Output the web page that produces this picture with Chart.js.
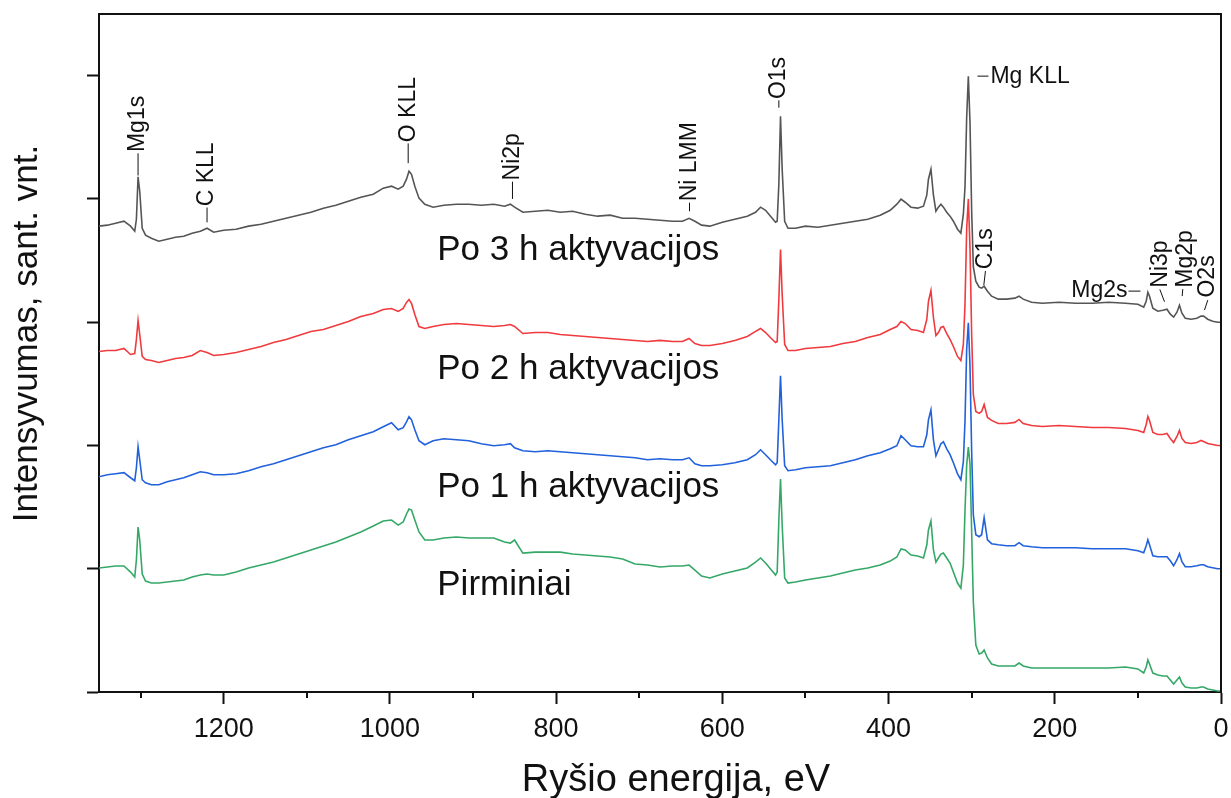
<!DOCTYPE html>
<html lang="lt">
<head>
<meta charset="UTF-8">
<title>XPS apžvalginiai spektrai</title>
<script src="https://cdn.jsdelivr.net/npm/chart.js"></script>
<style>
    html, body { margin: 0; padding: 0; background: #fff; }
    canvas { display: block; }
</style>
</head>
<body>
<canvas id="xps" width="1231" height="798"></canvas>
<script>
// Ryšio energija, eV (bendra visiems spektrams)
const energija = [
    1350, 1340, 1330, 1320, 1312, 1307, 1305, 1303, 1301, 1298,
    1294, 1287, 1278, 1268, 1258, 1248, 1238, 1228, 1220, 1212,
    1200, 1185, 1170, 1155, 1140, 1125, 1110, 1095, 1080, 1065,
    1050, 1035, 1020, 1008, 998, 990, 984, 980, 977, 974,
    970, 965, 958, 948, 935, 920, 905, 890, 875, 862,
    855, 850, 840, 825, 810, 795, 780, 765, 750, 735,
    720, 705, 690, 675, 660, 648, 640, 633, 625, 615,
    600, 585, 570, 560, 554, 548, 541, 536, 534, 532,
    530, 528, 525, 521, 512, 500, 485, 470, 455, 440,
    425, 410, 398, 390, 385, 380, 373, 365, 358, 354,
    352, 349, 346, 343, 340, 337, 334, 330, 326, 322,
    317, 313, 310, 308, 306, 304, 302, 300, 298, 295,
    291, 288, 285, 281, 276, 268, 258, 248, 243, 238,
    228, 215, 195, 175, 155, 135, 115, 100, 93, 90,
    88, 86, 82, 76, 70, 65, 61, 57, 53, 50,
    47, 43, 36, 29, 24, 21, 16, 10, 4, 0
];

// Normuoti intensyvumai (Mg KLL smailė ~2)
const pirminiai = [
    1.006, 1.014, 1.022, 1.022, 0.973, 0.933, 1.071, 1.338, 1.233, 0.957,
    0.900, 0.884, 0.884, 0.892, 0.900, 0.908, 0.933, 0.949, 0.957, 0.949,
    0.949, 0.973, 1.006, 1.030, 1.054, 1.087, 1.119, 1.152, 1.184, 1.217,
    1.257, 1.298, 1.346, 1.387, 1.395, 1.354, 1.379, 1.444, 1.484, 1.476,
    1.395, 1.298, 1.233, 1.233, 1.249, 1.257, 1.249, 1.249, 1.249, 1.217,
    1.208, 1.233, 1.127, 1.135, 1.135, 1.135, 1.119, 1.111, 1.103, 1.095,
    1.079, 1.038, 1.030, 1.014, 1.022, 1.022, 1.030, 0.989, 0.941, 0.925,
    0.957, 0.981, 1.006, 1.054, 1.087, 1.046, 0.989, 0.949, 0.973, 1.395,
    1.727, 1.354, 0.925, 0.884, 0.892, 0.908, 0.925, 0.941, 0.965, 0.989,
    1.006, 1.030, 1.062, 1.095, 1.160, 1.152, 1.111, 1.103, 1.087, 1.192,
    1.314, 1.387, 1.152, 1.054, 1.087, 1.119, 1.127, 1.087, 1.046, 0.973,
    0.884, 0.843, 1.030, 1.476, 1.840, 1.987, 1.850, 1.300, 0.730, 0.381,
    0.308, 0.316, 0.341, 0.276, 0.227, 0.211, 0.211, 0.211, 0.235, 0.211,
    0.195, 0.195, 0.195, 0.195, 0.195, 0.195, 0.203, 0.187, 0.154, 0.203,
    0.260, 0.227, 0.154, 0.138, 0.130, 0.130, 0.097, 0.065, 0.097, 0.122,
    0.073, 0.041, 0.032, 0.032, 0.041, 0.041, 0.024, 0.016, 0.008, 0.008
];

const po1h = [
    0.746, 0.762, 0.770, 0.779, 0.738, 0.714, 0.819, 0.989, 0.884, 0.722,
    0.697, 0.681, 0.681, 0.706, 0.722, 0.738, 0.762, 0.787, 0.779, 0.762,
    0.762, 0.770, 0.795, 0.827, 0.852, 0.884, 0.916, 0.949, 0.981, 1.006,
    1.046, 1.079, 1.111, 1.152, 1.184, 1.127, 1.144, 1.192, 1.233, 1.208,
    1.127, 1.038, 1.006, 1.038, 1.054, 1.046, 1.038, 1.014, 0.998, 1.006,
    1.014, 0.981, 0.957, 0.949, 0.957, 0.949, 0.941, 0.933, 0.925, 0.916,
    0.908, 0.900, 0.884, 0.892, 0.884, 0.884, 0.900, 0.852, 0.835, 0.835,
    0.843, 0.860, 0.884, 0.925, 0.965, 0.925, 0.876, 0.843, 0.860, 1.208,
    1.565, 1.208, 0.835, 0.795, 0.803, 0.819, 0.827, 0.835, 0.860, 0.884,
    0.916, 0.941, 0.973, 0.998, 1.079, 1.046, 0.998, 0.989, 0.989, 1.087,
    1.208, 1.289, 1.046, 0.916, 0.965, 1.014, 1.030, 0.973, 0.925, 0.860,
    0.770, 0.722, 0.868, 1.200, 1.780, 1.995, 1.640, 0.950, 0.438, 0.276,
    0.260, 0.276, 0.414, 0.235, 0.203, 0.195, 0.187, 0.187, 0.211, 0.187,
    0.178, 0.170, 0.170, 0.170, 0.162, 0.162, 0.162, 0.146, 0.130, 0.187,
    0.235, 0.195, 0.105, 0.097, 0.097, 0.097, 0.065, 0.024, 0.073, 0.122,
    0.057, 0.016, 0.016, 0.024, 0.032, 0.032, 0.016, 0.008, 0, 0
];

const po2h = [
    0.762, 0.770, 0.770, 0.787, 0.738, 0.746, 0.860, 1.014, 0.900, 0.722,
    0.697, 0.689, 0.673, 0.689, 0.706, 0.714, 0.730, 0.770, 0.754, 0.730,
    0.738, 0.754, 0.779, 0.803, 0.835, 0.860, 0.892, 0.925, 0.941, 0.973,
    1.006, 1.046, 1.071, 1.103, 1.111, 1.087, 1.111, 1.160, 1.184, 1.152,
    1.062, 0.965, 0.949, 0.965, 0.981, 0.989, 0.981, 0.973, 0.965, 0.973,
    0.981, 0.965, 0.908, 0.916, 0.916, 0.900, 0.892, 0.884, 0.876, 0.868,
    0.860, 0.852, 0.843, 0.852, 0.843, 0.843, 0.868, 0.827, 0.811, 0.811,
    0.827, 0.852, 0.884, 0.925, 0.949, 0.916, 0.868, 0.835, 0.843, 1.184,
    1.590, 1.225, 0.819, 0.770, 0.770, 0.787, 0.795, 0.803, 0.827, 0.843,
    0.876, 0.900, 0.941, 0.965, 1.006, 0.989, 0.941, 0.933, 0.916, 1.022,
    1.168, 1.257, 1.038, 0.892, 0.916, 0.957, 0.965, 0.908, 0.860, 0.803,
    0.722, 0.689, 0.819, 1.150, 1.760, 2.000, 1.600, 0.900, 0.414, 0.276,
    0.260, 0.276, 0.333, 0.227, 0.203, 0.178, 0.178, 0.187, 0.211, 0.178,
    0.162, 0.154, 0.162, 0.154, 0.146, 0.146, 0.138, 0.122, 0.105, 0.170,
    0.235, 0.203, 0.105, 0.089, 0.089, 0.097, 0.057, 0.024, 0.073, 0.122,
    0.057, 0.024, 0.016, 0.024, 0.041, 0.032, 0.016, 0.008, 0, 0
];

const po3h = [
    0.779, 0.787, 0.803, 0.819, 0.779, 0.738, 0.835, 1.180, 1.062, 0.762,
    0.706, 0.681, 0.657, 0.673, 0.689, 0.697, 0.722, 0.738, 0.762, 0.730,
    0.746, 0.754, 0.779, 0.795, 0.819, 0.843, 0.868, 0.892, 0.925, 0.949,
    0.981, 1.014, 1.038, 1.087, 1.103, 1.079, 1.103, 1.160, 1.225, 1.200,
    1.103, 1.006, 0.957, 0.933, 0.949, 0.957, 0.957, 0.949, 0.957, 0.941,
    0.957, 0.933, 0.892, 0.900, 0.908, 0.892, 0.900, 0.876, 0.860, 0.868,
    0.843, 0.843, 0.835, 0.827, 0.819, 0.819, 0.843, 0.819, 0.787, 0.779,
    0.811, 0.835, 0.860, 0.892, 0.933, 0.908, 0.852, 0.811, 0.819, 1.119,
    1.671, 1.241, 0.819, 0.762, 0.762, 0.779, 0.770, 0.787, 0.803, 0.819,
    0.835, 0.868, 0.908, 0.957, 0.998, 0.973, 0.933, 0.925, 0.941, 1.030,
    1.160, 1.241, 1.030, 0.900, 0.933, 0.957, 0.933, 0.892, 0.860, 0.819,
    0.754, 0.722, 0.876, 1.100, 1.660, 1.995, 1.620, 0.900, 0.450, 0.333,
    0.284, 0.276, 0.292, 0.251, 0.211, 0.187, 0.187, 0.195, 0.211, 0.187,
    0.162, 0.154, 0.162, 0.154, 0.154, 0.162, 0.154, 0.146, 0.122, 0.170,
    0.243, 0.211, 0.114, 0.089, 0.097, 0.105, 0.065, 0.041, 0.081, 0.138,
    0.073, 0.032, 0.024, 0.032, 0.049, 0.049, 0.024, 0.008, 0, 0
];

// spektrai pastumti vienas virš kito
const spektrai = [pirminiai, po1h, po2h, po3h];
const poslinkiai = [0, 1, 2, 3];
const pavadinimai = ['Pirminiai', 'Po 1 h aktyvacijos', 'Po 2 h aktyvacijos', 'Po 3 h aktyvacijos'];
const spalvos = ['#35a867', '#2161dc', '#f03a3d', '#555555'];

// užrašai prie spektrų: [tekstas, y]
const uzrasai = [
    ['Po 3 h aktyvacijos', 3.504],
    ['Po 2 h aktyvacijos', 2.538],
    ['Po 1 h aktyvacijos', 1.581],
    ['Pirminiai', 0.787]
];

// smailių žymės (vertikalios): [tekstas, E, y, linija E1, y1, E2, y2]
const zymes = [
    ['Mg1s', 1303, 4.38, 1303, 4.19, 1303, 4.37],
    ['C KLL', 1220, 3.94, 1220, 3.81, 1220, 3.93],
    ['O KLL', 978, 4.46, 978, 4.29, 978, 4.45],
    ['Ni2p', 852.5, 4.15, 852.5, 4.0, 852.5, 4.14],
    ['Ni LMM', 639.5, 3.98, 639.5, 3.90, 639.5, 3.97],
    ['O1s', 532, 4.81, 532, 4.74, 532, 4.80],
    ['C1s', 283.4, 3.43, 285.4, 3.30, 283.4, 3.415],
    ['Ni3p', 72.8, 3.28, 73.6, 3.266, 68.0, 3.166],
    ['Mg2p', 42.5, 3.28, 46.0, 3.268, 46.7, 3.212],
    ['O2s', 15.6, 3.20, 15.9, 3.179, 19.9, 3.098]
];

const juoda = '#111';
Chart.defaults.font.family = "'Liberation Sans', Arial, sans-serif";

const datasets = spektrai.map((s, k) => ({
    label: pavadinimai[k],
    data: energija.map((e, i) => ({ x: e, y: s[i] + poslinkiai[k] })),
    borderColor: spalvos[k],
    borderWidth: 1.6,
    pointRadius: 0,
    tension: 0,
    fill: false
}));

function vertikaliai(ctx, txt, px, py, lygiuote, bazine) {
    ctx.save();
    ctx.translate(px, py);
    ctx.rotate(-Math.PI / 2);
    ctx.textAlign = lygiuote;
    ctx.textBaseline = bazine;
    ctx.fillText(txt, 0, 0);
    ctx.restore();
}

const papildomai = {
    id: 'papildomai',
    afterDraw(chart) {
        const { ctx, chartArea: a, scales: { x, y } } = chart;
        ctx.save();
        ctx.strokeStyle = juoda;
        ctx.fillStyle = juoda;

        // viršutinis ir dešinysis rėmelis
        ctx.lineWidth = 2;
        ctx.beginPath();
        ctx.moveTo(a.left - 1, a.top);
        ctx.lineTo(a.right, a.top);
        ctx.lineTo(a.right, a.bottom + 1);
        ctx.stroke();

        // tarpinės žymės kas 200 eV
        ctx.beginPath();
        for (let v = 100; v < 1350; v += 200) {
            const px = Math.round(x.getPixelForValue(v));
            ctx.moveTo(px, a.bottom);
            ctx.lineTo(px, a.bottom + 6);
        }
        ctx.stroke();

        // smailių žymės
        ctx.lineWidth = 1;
        ctx.font = "23px 'Liberation Sans', Arial, sans-serif";
        zymes.forEach(([t, e, v, e1, v1, e2, v2]) => {
            ctx.beginPath();
            ctx.moveTo(x.getPixelForValue(e1), y.getPixelForValue(v1));
            ctx.lineTo(x.getPixelForValue(e2), y.getPixelForValue(v2));
            ctx.stroke();
            vertikaliai(ctx, t, x.getPixelForValue(e), y.getPixelForValue(v), 'left', 'middle');
        });

        // Mg KLL ir Mg2s - horizontalūs
        ctx.beginPath();
        ctx.moveTo(x.getPixelForValue(293), y.getPixelForValue(4.996));
        ctx.lineTo(x.getPixelForValue(279.8), y.getPixelForValue(4.996));
        ctx.moveTo(x.getPixelForValue(111.3), y.getPixelForValue(3.252));
        ctx.lineTo(x.getPixelForValue(96.9), y.getPixelForValue(3.252));
        ctx.stroke();
        ctx.textBaseline = 'alphabetic';
        ctx.textAlign = 'left';
        ctx.fillText('Mg KLL', x.getPixelForValue(277.4), y.getPixelForValue(4.942));
        ctx.textAlign = 'right';
        ctx.fillText('Mg2s', x.getPixelForValue(112.4), y.getPixelForValue(3.204));

        // spektrų pavadinimai
        ctx.font = "35px 'Liberation Sans', Arial, sans-serif";
        ctx.textAlign = 'left';
        uzrasai.forEach(([t, v]) => {
            ctx.fillText(t, x.getPixelForValue(943), y.getPixelForValue(v));
        });

        // ašių pavadinimai
        ctx.font = "38px 'Liberation Sans', Arial, sans-serif";
        ctx.textAlign = 'center';
        ctx.fillText('Ryšio energija, eV', 676, 791);
        ctx.font = "35px 'Liberation Sans', Arial, sans-serif";
        vertikaliai(ctx, 'Intensyvumas, sant. vnt.', 37, 333.5, 'center', 'alphabetic');

        ctx.restore();
    }
};

new Chart(document.getElementById('xps'), {
    type: 'line',
    data: { datasets: datasets },
    options: {
        responsive: false,
        animation: false,
        devicePixelRatio: 1,
        events: [],
        layout: { padding: { top: 14, right: 10, left: 0, bottom: 0 } },
        plugins: { legend: { display: false }, tooltip: { enabled: false } },
        scales: {
            x: {
                type: 'linear',
                reverse: true,
                min: 0,
                max: 1350,
                afterFit: (s) => { s.height = 106; s.paddingLeft = 0; s.paddingRight = 0; },
                border: { color: juoda, width: 2 },
                grid: {
                    drawOnChartArea: false,
                    drawTicks: true,
                    tickLength: 12,
                    tickWidth: 2,
                    tickColor: (c) => (c.tick && c.tick.value % 200 === 0) ? juoda : 'rgba(0,0,0,0)'
                },
                ticks: {
                    stepSize: 100,
                    includeBounds: false,
                    autoSkip: false,
                    maxRotation: 0,
                    padding: 9,
                    color: juoda,
                    font: { size: 27 },
                    callback: (v) => (v % 200 === 0 ? String(v) : '')
                }
            },
            y: {
                min: 0,
                max: 5.5,
                afterFit: (s) => { s.width = 99; s.paddingTop = 0; s.paddingBottom = 0; },
                border: { color: juoda, width: 2 },
                grid: {
                    drawOnChartArea: false,
                    drawTicks: true,
                    tickLength: 12,
                    tickWidth: 2,
                    tickColor: juoda
                },
                ticks: { stepSize: 1, includeBounds: false, display: false }
            }
        }
    },
    plugins: [papildomai]
});
</script>
</body>
</html>
